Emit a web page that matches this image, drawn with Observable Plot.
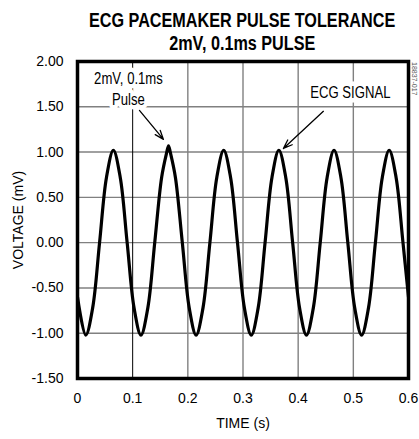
<!DOCTYPE html>
<html>
<head>
<meta charset="utf-8">
<script src="https://cdn.jsdelivr.net/npm/d3@7"></script>
<script src="https://cdn.jsdelivr.net/npm/@observablehq/plot@0.6"></script>
<style>
  html, body { margin: 0; padding: 0; background: white; }
  #wrap { position: relative; width: 419px; height: 439px; overflow: hidden; }
  .title { position: absolute; left: 0px; width: 485px; text-align: center;
           font-family: "Liberation Sans", Arial, sans-serif;
           font-weight: bold; font-size: 20px; line-height: 22.5px; color: black; white-space: nowrap; }
  .title span { display: inline-block; transform: scaleX(0.81); transform-origin: 50% 50%; }
  #fig { position: absolute; left: 409px; top: 62px; font-family: "Liberation Sans", Arial, sans-serif;
         font-size: 7px; color: #555; transform-origin: 0 0; transform: rotate(90deg) translate(0, -9px); white-space: nowrap; }
</style>
</head>
<body>
<div id="wrap">
  <div class="title" style="top:9px"><span>ECG PACEMAKER PULSE TOLERANCE</span></div>
  <div class="title" style="top:31.5px"><span>2mV, 0.1ms PULSE</span></div>
  <div id="fig">18837-017</div>
</div>
<script>
// Waveform samples (time in s, voltage in mV)
const times = [0, 0.015, 0.0275, 0.04, 0.0525, 0.065, 0.0775, 0.09, 0.1025, 0.115, 0.1275, 0.14, 0.1525,
  0.1615, 0.165, 0.1685, 0.1775, 0.19, 0.2025, 0.215, 0.2275, 0.24, 0.2525, 0.265, 0.2775, 0.29, 0.3025,
  0.315, 0.3275, 0.34, 0.3525, 0.365, 0.3775, 0.39, 0.4025, 0.415, 0.4275, 0.44, 0.4525, 0.465, 0.4775,
  0.49, 0.5025, 0.515, 0.5275, 0.54, 0.5525, 0.565, 0.5775, 0.59, 0.6];
const volts = [-0.60, -1.02, -0.72, 0.00, 0.72, 1.02, 0.72, 0.00, -0.72, -1.02, -0.72, 0.00, 0.72,
  0.99, 1.07, 0.99, 0.72, 0.00, -0.72, -1.02, -0.72, 0.00, 0.72, 1.02, 0.72, 0.00, -0.72,
  -1.02, -0.72, 0.00, 0.72, 1.02, 0.72, 0.00, -0.72, -1.02, -0.72, 0.00, 0.72, 1.02, 0.72,
  0.00, -0.72, -1.02, -0.72, 0.00, 0.72, 1.02, 0.72, 0.00, -0.60];

// Axis ticks
const xTicks = [0, 0.1, 0.2, 0.3, 0.4, 0.5, 0.6];
const yTicks = [-1.5, -1.0, -0.5, 0.0, 0.5, 1.0, 1.5, 2.0];
const xGrid = [0.2, 0.3, 0.4, 0.5];
const pulseLineX = [0.1];
const yGrid = [-1.0, -0.5, 0.0, 0.5, 1.0, 1.5];

// Annotations
const noteLabels = ["2mV, 0.1ms\nPulse", "ECG SIGNAL"];
const noteX = [0.0924, 0.4946];
const noteY = [1.713, 1.67];
const arrowX1 = [0.1123, 0.4457];
const arrowY1 = [1.46, 1.45];
const arrowX2 = [0.1558, 0.3732];
const arrowY2 = [1.14, 1.04];

const ecg = times.map((t, i) => ({t, v: volts[i]}));
const notes = noteLabels.map((text, i) => ({text, x: noteX[i], y: noteY[i]}));
const arrows = arrowX1.map((x1, i) => ({x1, y1: arrowY1[i], x2: arrowX2[i], y2: arrowY2[i]}));

const chart = Plot.plot({
  width: 419,
  height: 439,
  marginLeft: 77,
  marginRight: 11,
  marginTop: 61,
  marginBottom: 61,
  style: {fontFamily: "'Liberation Sans', Arial, sans-serif", fontSize: "14px", color: "black", background: "transparent", overflow: "visible"},
  x: {domain: [0, 0.6], ticks: xTicks, tickFormat: d => String(+d.toFixed(1)), tickSize: 0, tickPadding: 15,
      label: "TIME (s)", labelAnchor: "center", labelOffset: 49, labelArrow: false},
  y: {domain: [-1.5, 2], ticks: yTicks, tickFormat: d => d.toFixed(2), tickSize: 0, tickPadding: 14,
      label: "VOLTAGE (mV)", labelAnchor: "center", labelOffset: 64, labelArrow: false},
  marks: [
    Plot.ruleY(yGrid, {stroke: "#808080", strokeWidth: 1.4}),
    Plot.ruleX(xGrid, {stroke: "#808080", strokeWidth: 1.4}),
    Plot.ruleX(pulseLineX, {stroke: "black", strokeWidth: 1}),
    Plot.line(ecg, {x: "t", y: "v", curve: "catmull-rom", stroke: "black", strokeWidth: 3.2, clip: true}),
    Plot.text(notes, {x: "x", y: "y", text: "text", textAnchor: "middle", lineHeight: 1.3,
      fill: "black", stroke: "white", strokeWidth: 9, fontSize: 16, className: "note"}),
    Plot.arrow(arrows, {x1: "x1", y1: "y1", x2: "x2", y2: "y2", stroke: "black", strokeWidth: 1.3,
      headLength: 11, headAngle: 40}),
    Plot.frame({stroke: "black", strokeWidth: 3.5})
  ]
});
// condense annotation text horizontally (narrow face as in the reference)
d3.select(chart).selectAll("g.note text").each(function () {
  const t = this.getAttribute("transform") || "";
  this.setAttribute("transform", t + " scale(0.82,1)");
});
document.getElementById("wrap").prepend(chart);
chart.style.position = "absolute";
chart.style.left = "0";
chart.style.top = "0";
</script>
</body>
</html>
